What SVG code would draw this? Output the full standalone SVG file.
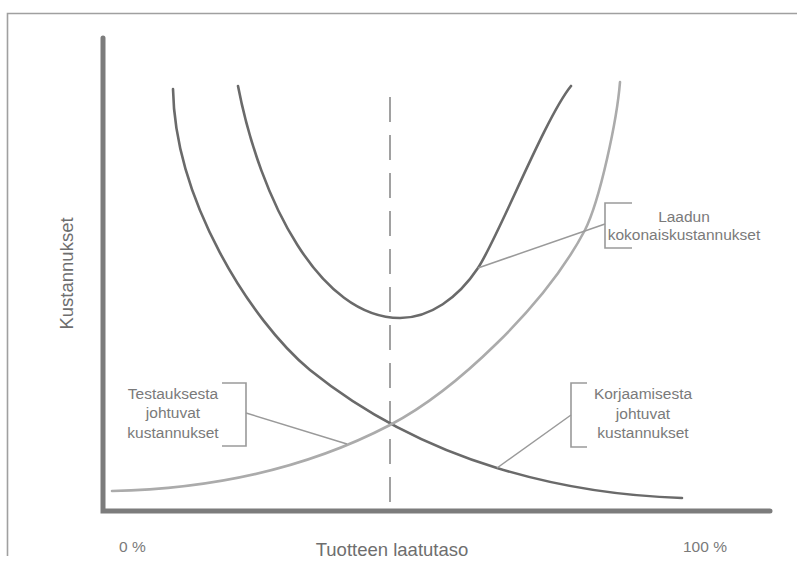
<svg xmlns="http://www.w3.org/2000/svg" width="797" height="575" viewBox="0 0 797 575">
  <style>
    .frame { fill: none; stroke: #a0a0a0; stroke-width: 1.6; }
    .axis { fill: none; stroke: #7c7c7c; stroke-width: 5; stroke-linecap: round; }
    .guide { fill: none; stroke: #8a8a8a; stroke-width: 1.6; stroke-dasharray: 25 13; }
    .dark { fill: none; stroke: #6a6a6a; stroke-width: 2.6; stroke-linecap: round; }
    .light { fill: none; stroke: #ababab; stroke-width: 2.6; stroke-linecap: round; }
    .lead { fill: none; stroke: #9a9a9a; stroke-width: 1.5; }
    .bracket { fill: none; stroke: #9a9a9a; stroke-width: 1.6; }
    .lbl { font-family: "Liberation Sans", Arial, sans-serif; font-size: 15.5px; fill: #7a7a7a; text-anchor: middle; }
    .tick { font-family: "Liberation Sans", Arial, sans-serif; font-size: 15.5px; fill: #7a7a7a; }
    .title { font-family: "Liberation Sans", Arial, sans-serif; font-size: 18.5px; fill: #6e6e6e; text-anchor: middle; }
  </style>

  <!-- outer frame -->
  <g id="frame">
    <path class="frame" d="M7.5,556 V13.5 H797"/>
  </g>

  <!-- axes and the optimum marker -->
  <g id="axes">
    <path class="axis" d="M103,38 V511 H770"/>
    <line class="guide" x1="390" y1="97" x2="390" y2="508"/>
  </g>

  <!-- cost curves -->
  <g id="curve-korjaus">
    <path class="dark" d="M173,89 C175,200 250,320 310,370 C372,420 435,449 497,468 C559,487 620,496 682,498"/>
  </g>
  <g id="curve-testaus">
    <path class="light" d="M112,491 C205,489 300,472 390,425 C455,391 545,306 585,230 C600,200 617,120 620,82"/>
  </g>
  <g id="curve-kokonais">
    <path class="dark" d="M238,86 C260,200 320,318 400,318 C430,318 458,298 478,268 C498,238 545,118 571,86"/>
  </g>

  <!-- leader lines from labels to curves -->
  <g id="connectors">
    <line class="lead" x1="605" y1="224" x2="478" y2="268"/>
    <line class="lead" x1="246" y1="413" x2="347" y2="444"/>
    <line class="lead" x1="571" y1="415" x2="497" y2="468"/>
  </g>

  <!-- curve labels -->
  <g id="label-kokonais">
    <path class="bracket" d="M632,203 H605 V248 H632"/>
    <text class="lbl" x="684" y="222">Laadun</text>
    <text class="lbl" x="684" y="240">kokonaiskustannukset</text>
  </g>
  <g id="label-testaus">
    <path class="bracket" d="M222,383 H246 V446 H222"/>
    <text class="lbl" x="173" y="399">Testauksesta</text>
    <text class="lbl" x="173" y="418">johtuvat</text>
    <text class="lbl" x="173" y="437.5">kustannukset</text>
  </g>
  <g id="label-korjaus">
    <path class="bracket" d="M587,383 H571 V447 H587"/>
    <text class="lbl" x="643" y="399">Korjaamisesta</text>
    <text class="lbl" x="643" y="418.5">johtuvat</text>
    <text class="lbl" x="643" y="438">kustannukset</text>
  </g>

  <!-- axis titles and scale ends -->
  <g id="axis-labels">
    <text class="title" transform="translate(72.5,273.5) rotate(-90)">Kustannukset</text>
    <text class="title" x="392" y="556">Tuotteen laatutaso</text>
    <text class="tick" x="119" y="552">0 %</text>
    <text class="tick" x="683" y="552">100 %</text>
  </g>
</svg>
